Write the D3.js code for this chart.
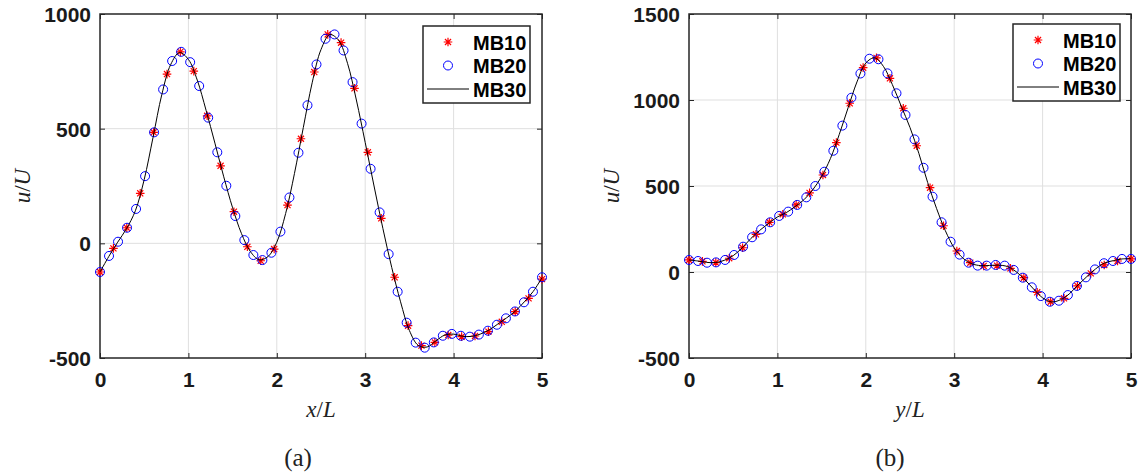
<!DOCTYPE html>
<html><head><meta charset="utf-8">
<script src="https://cdn.jsdelivr.net/npm/d3@7"></script>
<style>body{margin:0;background:#fff}svg{display:block}</style>
</head><body>
<svg id="c" width="1144" height="474"></svg>
<script>
// ---------- data ----------
const xTicks = [0, 1, 2, 3, 4, 5];
const yTicksA = [-500, 0, 500, 1000];
const yTicksB = [-500, 0, 500, 1000, 1500];
const seriesNames = ["MB10", "MB20", "MB30"];

const xMB10 = [0, 0.152, 0.303, 0.455, 0.606, 0.758, 0.909, 1.061, 1.212, 1.364, 1.515, 1.667, 1.818, 1.970, 2.121, 2.273, 2.424, 2.576, 2.727, 2.879, 3.030, 3.182, 3.333, 3.485, 3.636, 3.788, 3.939, 4.091, 4.242, 4.394, 4.545, 4.697, 4.848, 5.000];
const xMB20 = [0, 0.102, 0.204, 0.306, 0.408, 0.510, 0.612, 0.714, 0.816, 0.918, 1.020, 1.122, 1.224, 1.327, 1.429, 1.531, 1.633, 1.735, 1.837, 1.939, 2.041, 2.143, 2.245, 2.347, 2.449, 2.551, 2.653, 2.755, 2.857, 2.959, 3.061, 3.163, 3.265, 3.367, 3.469, 3.571, 3.673, 3.776, 3.878, 3.980, 4.082, 4.184, 4.286, 4.388, 4.490, 4.592, 4.694, 4.796, 4.898, 5.000];
const xMB30 = [0, 0.1, 0.2, 0.3, 0.4, 0.5, 0.6, 0.7, 0.8, 0.9, 1.0, 1.1, 1.2, 1.3, 1.4, 1.5, 1.6, 1.7, 1.8, 1.9, 2.0, 2.1, 2.2, 2.3, 2.4, 2.5, 2.6, 2.7, 2.8, 2.9, 3.0, 3.1, 3.2, 3.3, 3.4, 3.5, 3.6, 3.7, 3.8, 3.9, 4.0, 4.1, 4.2, 4.3, 4.4, 4.5, 4.6, 4.7, 4.8, 4.9, 5.0];

// panel (a): u/U vs x/L
const aMB10 = [-125, -22, 68, 218, 484, 738, 835, 751, 556, 338, 138, -15, -76, -25, 167, 456, 747, 911, 875, 676, 397, 109, -148, -359, -446, -432, -400, -407, -404, -385, -342, -298, -240, -156];
const aMB20 = [-125, -55, 7, 68, 150, 293, 484, 671, 795, 835, 790, 686, 548, 397, 251, 119, 14, -51, -73, -41, 51, 200, 395, 602, 780, 892, 911, 841, 703, 522, 325, 135, -47, -211, -346, -433, -455, -432, -403, -395, -403, -407, -398, -381, -355, -327, -297, -257, -211, -148];
const aMB30 = [-125, -57, 5, 64, 142, 278, 462, 650, 780, 832, 802, 712, 580, 437, 290, 155, 43, -35, -72, -58, 5, 130, 305, 505, 700, 845, 910, 885, 785, 625, 440, 250, 65, -105, -255, -380, -445, -452, -425, -400, -396, -405, -406, -396, -378, -352, -325, -295, -255, -210, -150];

// panel (b): u/U vs y/L
const bMB10 = [70, 62, 55, 80, 141, 219, 289, 335, 390, 460, 564, 752, 981, 1188, 1245, 1126, 952, 734, 490, 269, 122, 54, 35, 37, 21, -33, -118, -173, -153, -81, -8, 41, 64, 76];
const bMB20 = [70, 64, 54, 56, 70, 99, 147, 202, 248, 289, 326, 351, 390, 434, 500, 583, 705, 851, 1013, 1154, 1240, 1237, 1155, 1039, 913, 771, 606, 438, 289, 176, 101, 54, 37, 37, 41, 37, 12, -33, -89, -140, -173, -167, -134, -81, -31, 15, 51, 64, 76, 76];
const bMB30 = [70, 64, 56, 55, 68, 95, 140, 195, 242, 282, 320, 345, 380, 420, 478, 555, 660, 800, 955, 1105, 1215, 1245, 1195, 1090, 965, 840, 690, 520, 370, 240, 140, 80, 48, 37, 38, 40, 32, 2, -45, -100, -150, -174, -162, -128, -76, -27, 18, 52, 66, 76, 77];

// ---------- drawing ----------
const svg = d3.select("#c");
const axisColor = "#262626";
const tickFont = "'Liberation Sans', Arial, sans-serif";
const mathFont = "'Liberation Serif', 'Times New Roman', serif";
const fmt = d => String(d); // plain hyphen-minus like the original

function starPath(r) {
  const d = r * 0.7071;
  return `M${-r},0L${r},0M0,${-r}L0,${r}M${-d},${-d}L${d},${d}M${-d},${d}L${d},${-d}`;
}

function panel(opt) {
  const { x0, x1, y0, y1, yDomain, yTicks, s10, s20, s30, xLabel, caption, legend } = opt;
  const x = d3.scaleLinear().domain([0, 5]).range([x0, x1]);
  const y = d3.scaleLinear().domain(yDomain).range([y1, y0]);
  const g = svg.append("g");

  // grid
  g.append("g").selectAll("line").data(xTicks.slice(1, -1)).join("line")
    .attr("x1", d => x(d)).attr("x2", d => x(d)).attr("y1", y0).attr("y2", y1)
    .attr("stroke", "#dfdfdf").attr("stroke-width", 1);
  g.append("g").selectAll("line").data(yTicks.slice(1, -1)).join("line")
    .attr("x1", x0).attr("x2", x1).attr("y1", d => y(d)).attr("y2", d => y(d))
    .attr("stroke", "#dfdfdf").attr("stroke-width", 1);

  // axes via d3 axis (inward ticks)
  const tl = 5;
  const ax = [
    g.append("g").attr("transform", `translate(0,${y1})`).call(d3.axisBottom(x).tickValues(xTicks).tickSize(-tl).tickFormat(fmt)),
    g.append("g").attr("transform", `translate(0,${y0})`).call(d3.axisTop(x).tickValues(xTicks).tickSize(-tl).tickFormat("")),
    g.append("g").attr("transform", `translate(${x0},0)`).call(d3.axisLeft(y).tickValues(yTicks).tickSize(-tl).tickFormat(fmt)),
    g.append("g").attr("transform", `translate(${x1},0)`).call(d3.axisRight(y).tickValues(yTicks).tickSize(-tl).tickFormat(""))
  ];
  ax.forEach(a => {
    a.select(".domain").remove();
    a.selectAll(".tick line").attr("stroke", axisColor).attr("stroke-width", 1);
    a.selectAll("text").attr("fill", "#1a1a1a").attr("font-family", tickFont)
      .attr("font-weight", "bold").attr("font-size", 21);
  });
  ax[0].selectAll(".tick text").attr("dy", null).attr("y", 0)
    .attr("transform", "translate(0,29)");
  ax[2].selectAll(".tick text").attr("dy", null).attr("x", -9).attr("y", 7.5);

  // box
  g.append("rect").attr("x", x0).attr("y", y0).attr("width", x1 - x0).attr("height", y1 - y0)
    .attr("fill", "none").attr("stroke", axisColor).attr("stroke-width", 1.5);

  // MB10 stars
  g.append("g").selectAll("path").data(xMB10.map((d, i) => [d, s10[i]])).join("path")
    .attr("transform", d => `translate(${x(d[0])},${y(d[1])})`)
    .attr("d", starPath(4.3)).attr("stroke", "#ff0000").attr("stroke-width", 1.2).attr("fill", "none");
  // MB20 circles
  g.append("g").selectAll("circle").data(xMB20.map((d, i) => [d, s20[i]])).join("circle")
    .attr("cx", d => x(d[0])).attr("cy", d => y(d[1])).attr("r", 4.5)
    .attr("stroke", "#0000ff").attr("stroke-width", 1).attr("fill", "none");
  // MB30 line
  const line = d3.line().x(d => x(d[0])).y(d => y(d[1])).curve(d3.curveCatmullRom);
  g.append("path").datum(xMB30.map((d, i) => [d, s30[i]])).attr("d", line)
    .attr("fill", "none").attr("stroke", "#000").attr("stroke-width", 1);

  // axis labels
  const xl = g.append("text").attr("x", (x0 + x1) / 2).attr("y", 417).attr("text-anchor", "middle")
    .attr("font-family", mathFont).attr("font-size", 23).attr("fill", "#222");
  xl.append("tspan").attr("font-style", "italic").text(xLabel);
  xl.append("tspan").text("/");
  xl.append("tspan").attr("font-style", "italic").text("L");

  const yl = g.append("text").attr("transform", `translate(${x0 - 70},${(y0 + y1) / 2}) rotate(-90)`)
    .attr("text-anchor", "middle").attr("font-family", mathFont).attr("font-size", 23).attr("fill", "#222");
  yl.append("tspan").attr("font-style", "italic").text("u");
  yl.append("tspan").text("/");
  yl.append("tspan").attr("font-style", "italic").text("U");

  g.append("text").attr("x", caption.x).attr("y", 466).attr("text-anchor", "middle")
    .attr("font-family", mathFont).attr("font-size", 25).attr("fill", "#222").text(caption.t);

  // legend
  const L = legend;
  const lg = g.append("g").attr("transform", `translate(${L.x},${L.y})`);
  lg.append("rect").attr("x", 0).attr("y", 0).attr("width", 107).attr("height", 77)
    .attr("fill", "#fff").attr("stroke", axisColor).attr("stroke-width", 1.5);
  const rows = [16, 39.5, 63];
  lg.append("path").attr("transform", `translate(25,${rows[0]})`).attr("d", starPath(4.3))
    .attr("stroke", "#ff0000").attr("stroke-width", 1.2).attr("fill", "none");
  lg.append("circle").attr("cx", 25).attr("cy", rows[1]).attr("r", 4.5)
    .attr("stroke", "#0000ff").attr("fill", "none");
  lg.append("line").attr("x1", 4).attr("x2", 46).attr("y1", rows[2]).attr("y2", rows[2])
    .attr("stroke", "#000").attr("stroke-width", 1);
  lg.selectAll("text.lt").data(seriesNames).join("text").attr("class", "lt")
    .attr("x", 50).attr("y", (d, i) => rows[i] + 7.5)
    .attr("font-family", tickFont).attr("font-weight", "bold").attr("font-size", 20)
    .attr("fill", "#000").text(d => d);
}

panel({ x0: 100, x1: 542, y0: 14, y1: 358, yDomain: [-500, 1000], yTicks: yTicksA,
  s10: aMB10, s20: aMB20, s30: aMB30, xLabel: "x", caption: { x: 298, t: "(a)" },
  legend: { x: 423, y: 26 } });
panel({ x0: 689, x1: 1131, y0: 14, y1: 358, yDomain: [-500, 1500], yTicks: yTicksB,
  s10: bMB10, s20: bMB20, s30: bMB30, xLabel: "y", caption: { x: 890, t: "(b)" },
  legend: { x: 1013, y: 24 } });
</script>
</body></html>
